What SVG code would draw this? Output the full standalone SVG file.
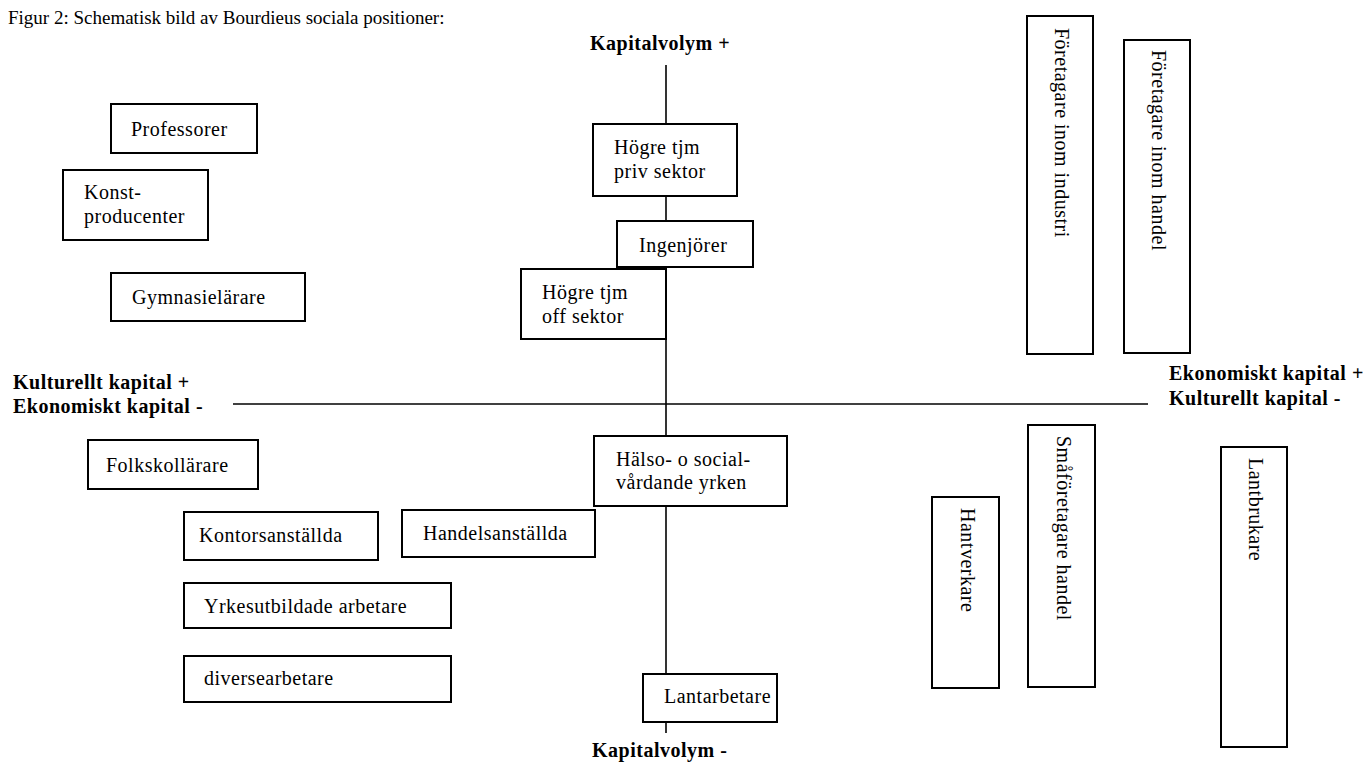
<svg xmlns="http://www.w3.org/2000/svg" width="1367" height="767" viewBox="0 0 1367 767">
<style>
  .bg { fill: #ffffff; }
  .box { fill: #ffffff; stroke: #000000; stroke-width: 2; }
  .axis { stroke: #000000; stroke-width: 1.6; fill: none; }
  .t { font-family: "Liberation Serif", "Times New Roman", serif; font-size: 20px; letter-spacing: 0.5px; fill: #000000; }
  .b { font-family: "Liberation Serif", "Times New Roman", serif; font-size: 20px; font-weight: bold; letter-spacing: 0.5px; fill: #000000; }
  .title { font-family: "Liberation Serif", "Times New Roman", serif; font-size: 19px; fill: #000000; }
</style>
<rect class="bg" x="0" y="0" width="1367" height="767"/>
<text class="title" x="8" y="24">Figur 2: Schematisk bild av Bourdieus sociala positioner:</text>

<g id="connectors">
  <line class="axis" x1="666" y1="65" x2="666" y2="733"/>
  <line class="axis" x1="233" y1="404" x2="1148" y2="404"/>
</g>

<g id="axis-labels">
  <text class="b" x="590" y="50">Kapitalvolym +</text>
  <text class="b" x="592" y="757">Kapitalvolym -</text>
  <text class="b" x="13" y="389">Kulturellt kapital +</text>
  <text class="b" x="13" y="413">Ekonomiskt kapital -</text>
  <text class="b" x="1169" y="380">Ekonomiskt kapital +</text>
  <text class="b" x="1169" y="405">Kulturellt kapital -</text>
</g>

<g id="professorer">
  <rect class="box" x="111" y="104" width="146" height="49"/>
  <text class="t" x="131" y="136">Professorer</text>
</g>
<g id="konstproducenter">
  <rect class="box" x="63" y="170" width="145" height="70"/>
  <text class="t" x="84" y="199">Konst-</text>
  <text class="t" x="84" y="223">producenter</text>
</g>
<g id="gymnasielarare">
  <rect class="box" x="111" y="273" width="194" height="48"/>
  <text class="t" x="132" y="304">Gymnasielärare</text>
</g>
<g id="hogre-priv">
  <rect class="box" x="593" y="124" width="144" height="72"/>
  <text class="t" x="614" y="154">Högre tjm</text>
  <text class="t" x="614" y="178">priv sektor</text>
</g>
<g id="ingenjorer">
  <rect class="box" x="617" y="221" width="136" height="46"/>
  <text class="t" x="639" y="252">Ingenjörer</text>
</g>
<g id="hogre-off">
  <rect class="box" x="521" y="269" width="145" height="70"/>
  <text class="t" x="542" y="299">Högre tjm</text>
  <text class="t" x="542" y="323">off sektor</text>
</g>
<g id="folkskollarare">
  <rect class="box" x="88" y="440" width="170" height="49"/>
  <text class="t" x="106" y="472">Folkskollärare</text>
</g>
<g id="halso">
  <rect class="box" x="594" y="436" width="193" height="70"/>
  <text class="t" x="616" y="466">Hälso- o social-</text>
  <text class="t" x="616" y="489">vårdande yrken</text>
</g>
<g id="kontorsanstallda">
  <rect class="box" x="184" y="512" width="194" height="48"/>
  <text class="t" x="199" y="542">Kontorsanställda</text>
</g>
<g id="handelsanstallda">
  <rect class="box" x="402" y="510" width="193" height="47"/>
  <text class="t" x="423" y="540">Handelsanställda</text>
</g>
<g id="yrkesutbildade">
  <rect class="box" x="184" y="583" width="267" height="45"/>
  <text class="t" x="204" y="613">Yrkesutbildade arbetare</text>
</g>
<g id="diversearbetare">
  <rect class="box" x="184" y="656" width="267" height="46"/>
  <text class="t" x="204" y="685">diversearbetare</text>
</g>
<g id="lantarbetare">
  <rect class="box" x="643" y="674" width="134" height="48"/>
  <text class="t" x="664" y="703">Lantarbetare</text>
</g>
<g id="foretagare-industri">
  <rect class="box" x="1027" y="16" width="66" height="338"/>
  <text class="t" transform="translate(1055,28) rotate(90)">Företagare inom industri</text>
</g>
<g id="foretagare-handel">
  <rect class="box" x="1124" y="40" width="66" height="313"/>
  <text class="t" transform="translate(1152,50) rotate(90)">Företagare inom handel</text>
</g>
<g id="smaforetagare">
  <rect class="box" x="1028" y="425" width="67" height="262"/>
  <text class="t" transform="translate(1057,436) rotate(90)">Småföretagare handel</text>
</g>
<g id="hantverkare">
  <rect class="box" x="932" y="497" width="67" height="191"/>
  <text class="t" transform="translate(961,508) rotate(90)">Hantverkare</text>
</g>
<g id="lantbrukare">
  <rect class="box" x="1221" y="447" width="66" height="300"/>
  <text class="t" transform="translate(1249,458) rotate(90)">Lantbrukare</text>
</g>
</svg>
